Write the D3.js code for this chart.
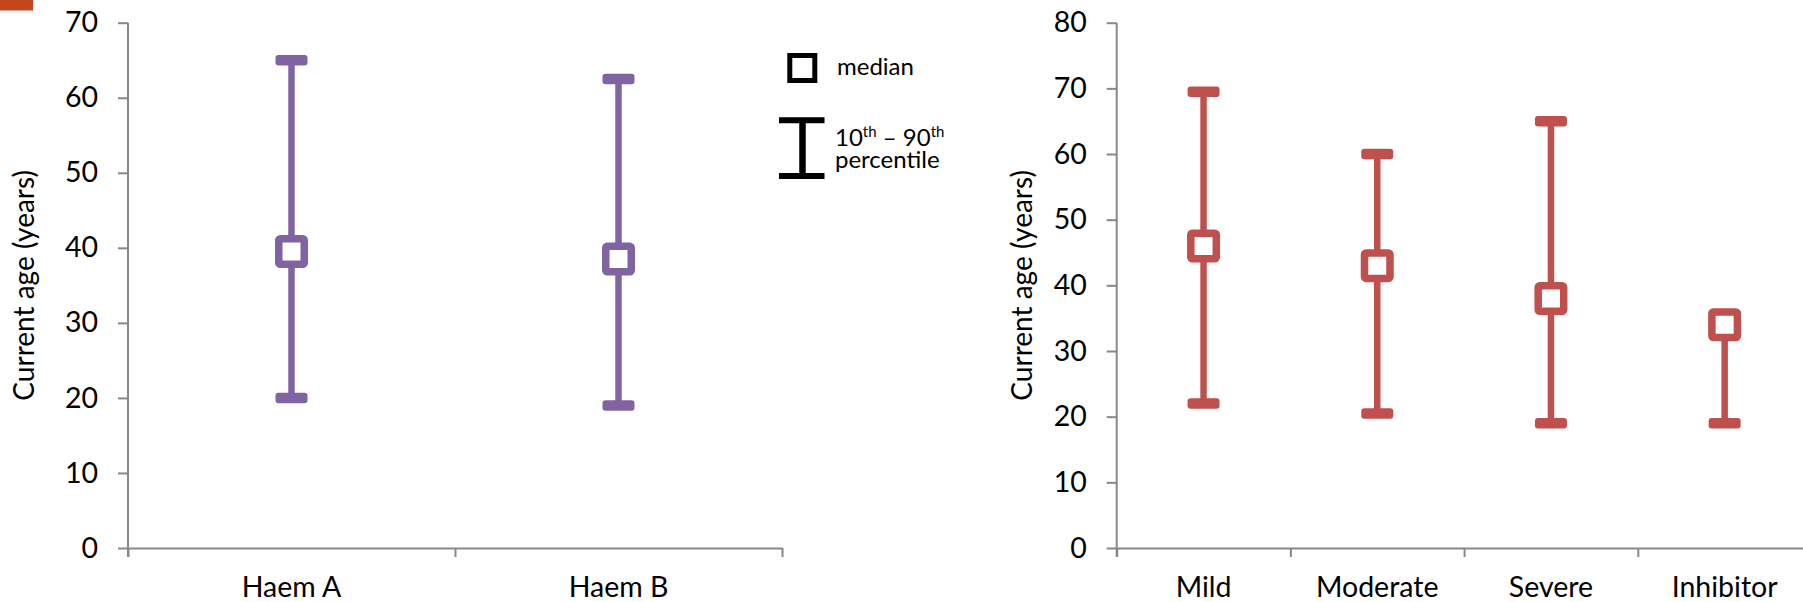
<!DOCTYPE html>
<html>
<head>
<meta charset="utf-8">
<script src="https://cdn.jsdelivr.net/npm/d3@7"></script>
<style>
  html, body { margin: 0; padding: 0; background: #fff; }
  svg { display: block; }
  text { font-family: Lato, "Open Sans", sans-serif; fill: #000; }
</style>
</head>
<body>
<svg id="chart" width="1803" height="602"></svg>
<script>
// Current age by haemophilia type: median with 10th–90th percentile range
const typeCats = ["Haem A", "Haem B"];
const typeMedian = [39.5, 38.5];
const typeP10 = [20, 19];
const typeP90 = [65, 62.5];
const typeTicks = [0, 10, 20, 30, 40, 50, 60, 70];

// Current age by severity group
const sevCats = ["Mild", "Moderate", "Severe", "Inhibitor"];
const sevMedian = [46, 43, 38, 34];
const sevP10 = [22, 20.5, 19, 19];
const sevP90 = [69.5, 60, 65, 34];
const sevTicks = [0, 10, 20, 30, 40, 50, 60, 70, 80];

const yTitle = "Current age (years)";
const PURPLE = "#8064A2";
const RED = "#C0504D";
const AXIS = "#888888";

const svg = d3.select("#chart");
svg.append("rect").attr("width", 1803).attr("height", 602).attr("fill", "#fff");

// small accent block in the top-left corner
svg.append("rect").attr("x", 0).attr("y", 0).attr("width", 33).attr("height", 10.5)
  .attr("fill", "#C1461C");

function panel(opts) {
  const { cats, med, lo, hi, ticks, yMax, x0, x1, titleX, color } = opts;
  const top = 22.7, bottom = 548;
  const y = d3.scaleLinear().domain([0, yMax]).range([bottom, top]);
  const band = d3.scaleBand().domain(cats).range([x0, x1]).paddingInner(0).paddingOuter(0);
  const edge = d3.scaleLinear().domain([0, cats.length]).range([x0, x1]);

  const g = svg.append("g");

  // y axis
  const ya = g.append("g").attr("transform", `translate(${x0},0)`)
    .call(d3.axisLeft(y).tickValues(ticks).tickSize(10).tickSizeOuter(0).tickPadding(20)
      .tickFormat(d3.format("d")));
  ya.select(".domain").attr("stroke", AXIS).attr("stroke-width", 2)
    .attr("d", `M0,${top}V${bottom + 9}`);
  ya.selectAll(".tick line").attr("stroke", AXIS).attr("stroke-width", 2);
  ya.selectAll(".tick text").style("font-family", "Lato, sans-serif")
    .style("font-size", "28.5px").attr("fill", "#000");

  // x axis: ticks at category boundaries, labels centred in each band
  const xa = g.append("g").attr("transform", `translate(0,${bottom})`)
    .call(d3.axisBottom(edge).tickValues(d3.range(0, cats.length + 1)).tickSize(9)
      .tickSizeOuter(0).tickFormat(""));
  xa.select(".domain").attr("stroke", AXIS).attr("stroke-width", 2);
  xa.selectAll(".tick line").attr("stroke", AXIS).attr("stroke-width", 2);

  g.selectAll(".cat").data(cats).join("text")
    .attr("class", "cat")
    .attr("x", d => band(d) + band.bandwidth() / 2)
    .attr("y", 597)
    .attr("text-anchor", "middle")
    .style("font-size", "28.5px")
    .text(d => d);

  // y axis title
  g.append("text")
    .attr("transform", `translate(${titleX},${(top + bottom) / 2}) rotate(-90)`)
    .attr("text-anchor", "middle")
    .style("font-size", "28px")
    .text(yTitle);

  // whiskers, caps and median markers
  const rows = cats.map((c, i) => ({ c, med: med[i], lo: lo[i], hi: hi[i] }));
  const cx = d => band(d.c) + band.bandwidth() / 2;
  const marks = g.append("g");

  marks.selectAll(".whisker").data(rows).join("line")
    .attr("x1", cx).attr("x2", cx)
    .attr("y1", d => y(d.lo)).attr("y2", d => y(d.hi))
    .attr("stroke", color).attr("stroke-width", 6.5);

  const capW = 32, capH = 10.5;
  const caps = rows.flatMap(d => [{ c: d.c, v: d.lo }, { c: d.c, v: d.hi }]);
  marks.selectAll(".cap").data(caps).join("rect")
    .attr("x", d => cx(d) - capW / 2)
    .attr("y", d => y(d.v) - capH / 2)
    .attr("width", capW).attr("height", capH)
    .attr("rx", 3)
    .attr("fill", color);

  const boxS = 25.5;
  marks.selectAll(".median").data(rows).join("rect")
    .attr("x", d => cx(d) - boxS / 2)
    .attr("y", d => y(d.med) - boxS / 2)
    .attr("width", boxS).attr("height", boxS)
    .attr("rx", 1.5)
    .attr("fill", "#fff")
    .attr("stroke", color).attr("stroke-width", 7.5)
    .attr("stroke-linejoin", "round");
}

panel({ cats: typeCats, med: typeMedian, lo: typeP10, hi: typeP90, ticks: typeTicks,
  yMax: 70, x0: 128, x1: 782, titleX: 34, color: PURPLE });

panel({ cats: sevCats, med: sevMedian, lo: sevP10, hi: sevP90, ticks: sevTicks,
  yMax: 80, x0: 1116.7, x1: 1811.5, titleX: 1032, color: RED });

// key: median marker and percentile range
const key = svg.append("g");
key.append("rect").attr("x", 789.8).attr("y", 55.5).attr("width", 25).attr("height", 25)
  .attr("fill", "#fff").attr("stroke", "#000").attr("stroke-width", 5);
key.append("text").attr("x", 837).attr("y", 75).style("font-size", "24px").text("median");

key.append("line").attr("x1", 802.5).attr("x2", 802.5).attr("y1", 120).attr("y2", 176)
  .attr("stroke", "#000").attr("stroke-width", 6.5);
key.append("line").attr("x1", 779).attr("x2", 824.5).attr("y1", 120.3).attr("y2", 120.3)
  .attr("stroke", "#000").attr("stroke-width", 6);
key.append("line").attr("x1", 779).attr("x2", 824.5).attr("y1", 176).attr("y2", 176)
  .attr("stroke", "#000").attr("stroke-width", 6);

const pct = key.append("text").attr("x", 835).attr("y", 146).style("font-size", "24px");
pct.append("tspan").text("10");
pct.append("tspan").attr("dy", -9).style("font-size", "15px").text("th");
pct.append("tspan").attr("dy", 9).text(" – 90");
pct.append("tspan").attr("dy", -9).style("font-size", "15px").text("th");
key.append("text").attr("x", 835).attr("y", 168).style("font-size", "24px").text("percentile");
</script>
</body>
</html>
